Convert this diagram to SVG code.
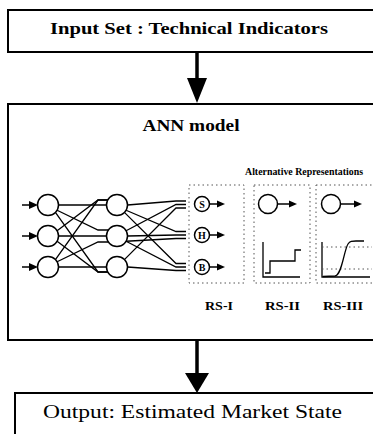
<svg xmlns="http://www.w3.org/2000/svg" width="373" height="434" viewBox="0 0 373 434">
<style>
.box{fill:#fff;stroke:#000;stroke-width:2}
.dot{fill:none;stroke:#555;stroke-width:1;stroke-dasharray:1.5 3}
.n{fill:#fff;stroke:#000;stroke-width:1.5}
.w{fill:none;stroke:#000;stroke-width:1.3}
.t{font-family:"Liberation Serif","Times New Roman",serif;fill:#000}
.b{font-weight:bold}
.ah{fill:#000;stroke:none}
</style>
<rect width="373" height="434" fill="#fff"/>
<g id="input">
<rect class="box" x="8" y="10" width="380" height="42"/>
<text class="t b" x="189" y="34" font-size="17" text-anchor="middle" textLength="278" lengthAdjust="spacingAndGlyphs">Input Set : Technical Indicators</text>
</g>
<g id="ann">
<rect class="box" x="8" y="104" width="380" height="236"/>
<text class="t b" x="191" y="131" font-size="17" text-anchor="middle" textLength="97" lengthAdjust="spacingAndGlyphs">ANN model</text>
<text class="t b" x="304" y="175" font-size="10.5" text-anchor="middle" textLength="118" lengthAdjust="spacingAndGlyphs">Alternative Representations</text>
</g>
<g id="output">
<rect class="box" x="15" y="393" width="380" height="60"/>
<text class="t" x="192.5" y="418" font-size="18" text-anchor="middle" textLength="299" lengthAdjust="spacingAndGlyphs">Output: Estimated Market State</text>
</g>
<g id="connectors">
<line x1="197" y1="52" x2="197" y2="80" stroke="#000" stroke-width="3.5"/>
<polygon class="ah" points="187,78 207,78 197,103"/>
<line x1="197" y1="340" x2="197" y2="376" stroke="#000" stroke-width="3.5"/>
<polygon class="ah" points="185,373 209,373 197,393"/>
<g stroke="#000" stroke-width="1.5">
<line x1="22" y1="205" x2="31" y2="205"/>
<line x1="22" y1="236" x2="31" y2="236"/>
<line x1="22" y1="267" x2="31" y2="267"/>
</g>
<polygon class="ah" points="29,201 38,205 29,209"/>
<polygon class="ah" points="29,232 38,236 29,240"/>
<polygon class="ah" points="29,263 38,267 29,271"/>
<polyline class="w" points="58.5,205 107,205"/>
<polyline class="w" points="58.5,236 107,236"/>
<polyline class="w" points="58.5,267 107,267"/>
<polyline class="w" points="57.1,230.75 98,200 107.8,200"/>
<polyline class="w" points="55.4,259.6 98,200 107.8,200"/>
<polyline class="w" points="57.1,210.25 98,230 108.4,230"/>
<polyline class="w" points="57.1,261.75 98,242 108.4,242"/>
<polyline class="w" points="55.4,212.4 98,272 107.8,272"/>
<polyline class="w" points="57.1,241.25 98,272 107.8,272"/>
<polyline class="w" points="127.5,205 176,201 186,201"/>
<polyline class="w" points="126.1,230.75 176,204.5 186,204.5"/>
<polyline class="w" points="124.4,259.6 176,208 186,208"/>
<polyline class="w" points="126.1,210.25 176,231.5 186,231.5"/>
<polyline class="w" points="127.5,236 176,235 186,235"/>
<polyline class="w" points="126.1,241.25 176,238.5 186,238.5"/>
<polyline class="w" points="124.4,212.4 176,263.5 186,263.5"/>
<polyline class="w" points="126.1,241.25 176,267 186,267"/>
<polyline class="w" points="127.5,267 176,270.5 186,270.5"/>
<g stroke="#000" stroke-width="1.5">
<line x1="209.5" y1="204" x2="219" y2="204"/>
<line x1="209.5" y1="235" x2="219" y2="235"/>
<line x1="209.5" y1="267" x2="219" y2="267"/>
<line x1="277.5" y1="204" x2="290" y2="204"/>
<line x1="340.5" y1="204" x2="355" y2="204"/>
</g>
<polygon class="ah" points="217,200.5 225,204 217,207.5"/>
<polygon class="ah" points="217,231.5 225,235 217,238.5"/>
<polygon class="ah" points="217,263.5 225,267 217,270.5"/>
<polygon class="ah" points="289,200.5 297,204 289,207.5"/>
<polygon class="ah" points="354,200.5 362,204 354,207.5"/>
</g>
<g id="layer1">
<circle class="n" cx="48" cy="205" r="10.5"/>
<circle class="n" cx="48" cy="236" r="10.5"/>
<circle class="n" cx="48" cy="267" r="10.5"/>
</g>
<g id="layer2">
<circle class="n" cx="117" cy="205" r="10.5"/>
<circle class="n" cx="117" cy="236" r="10.5"/>
<circle class="n" cx="117" cy="267" r="10.5"/>
</g>
<g id="rs1">
<rect class="dot" x="189" y="185" width="55" height="98"/>
<circle class="n" cx="202" cy="204" r="7.5"/>
<circle class="n" cx="202" cy="235" r="7.5"/>
<circle class="n" cx="202" cy="267" r="7.5"/>
<text class="t b" x="202" y="207.5" font-size="10" text-anchor="middle">S</text>
<text class="t b" x="202" y="238.5" font-size="10" text-anchor="middle">H</text>
<text class="t b" x="202" y="270.5" font-size="10" text-anchor="middle">B</text>
<text class="t b" x="219" y="310" font-size="13" text-anchor="middle" textLength="28" lengthAdjust="spacingAndGlyphs">RS-I</text>
</g>
<g id="rs2">
<rect class="dot" x="254" y="185" width="56" height="98"/>
<circle class="n" cx="268" cy="204" r="9.5"/>
<polyline class="w" points="263,242 263,277 300,277"/>
<polyline class="w" points="265,273 270,273 270,261 295,261 295,250 301,250"/>
<text class="t b" x="282.5" y="310" font-size="13" text-anchor="middle" textLength="35" lengthAdjust="spacingAndGlyphs">RS-II</text>
</g>
<g id="rs3">
<rect class="dot" x="316" y="185" width="60" height="98"/>
<circle class="n" cx="331" cy="204" r="9.5"/>
<polyline class="w" points="322,242 322,277 370,277"/>
<line class="dot" x1="322" y1="247" x2="372" y2="247" stroke="#000"/>
<line class="dot" x1="322" y1="269" x2="372" y2="269" stroke="#000"/>
<path class="w" d="M323,276.5 L335,276 C342,275 344,250 348,244 C350,241 352,241 356,241 L364,241"/>
<text class="t b" x="343" y="310" font-size="13" text-anchor="middle" textLength="40" lengthAdjust="spacingAndGlyphs">RS-III</text>
</g>
</svg>
